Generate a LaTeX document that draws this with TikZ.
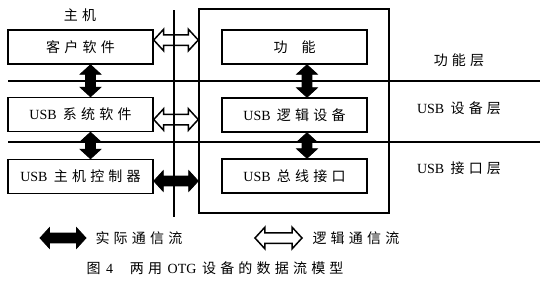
\documentclass[tikz,border=0pt]{standalone}
\usepackage{fontspec}
\setmainfont{Liberation Serif}
\newfontfamily\cjk[LetterSpace=30]{Noto Sans CJK SC}
\newcommand\usb{USB\hspace{.45em}}
\usetikzlibrary{arrows.meta,shapes.arrows,calc}

\begin{document}
\begin{tikzpicture}[x=1pt,y=-1pt,
  box/.style={draw,line width=1.5pt,minimum width=145pt,minimum height=34pt,inner sep=0pt,font=\fontsize{14}{16}\selectfont},
  txt/.style={font=\fontsize{14}{16}\selectfont},
  layer/.style={line width=1.6pt},
  flow/.style={to path={let \p1=(\tikztostart),\p2=(\tikztotarget),\n1={veclen(\x2-\x1,\y2-\y1)},\n2={atan2(\y2-\y1,\x2-\x1)} in node[double arrow,inner xsep=0pt,inner ysep=4.5pt,double arrow head extend=5.5pt,double arrow tip angle=95,minimum height=\n1,rotate=\n2,#1] at ($(\p1)!.5!(\p2)$) {}}},
  real/.style={fill=black,draw=black,line width=0.8pt},
  logic/.style={draw=black,line width=1.5pt}]
  \useasboundingbox (0,0) rectangle (549,285);
  % layers
  \draw[layer] (8,81) -- (540,81);
  \draw[layer] (8,142) -- (540,142);
  \draw[layer] (174,10) -- (174,217);
  % host side
  \node[txt] (host) at (80,15) {\cjk 主机};
  \node[box] (kh) at (80.5,47) {\cjk 客户软件};
  \node[box] (sys) at (80.5,114.5) {\usb\cjk 系统软件};
  \node[box] (hc) at (80.5,176.5) {\usb\cjk 主机控制器};
  % device side
  \node[draw,line width=1.5pt,minimum width=190pt,minimum height=204pt,inner sep=0pt] (dev) at (294,111) {};
  \node[box] (fn) at (294.5,47) {\cjk 功\quad 能};
  \node[box] (ld) at (294.5,115) {\usb\cjk 逻辑设备};
  \node[box] (bi) at (294.5,176) {\usb\cjk 总线接口};
  % layer names
  \node[txt] (l1) at (459,60) {\cjk 功能层};
  \node[txt] (l2) at (459,108) {\usb\cjk 设备层};
  \node[txt] (l3) at (459,168) {\usb\cjk 接口层};
  % flows
  \path ([xshift=10pt]kh.south) to[flow=real] ([xshift=10pt]sys.north);
  \path ([xshift=10pt]sys.south) to[flow=real] ([xshift=10pt]hc.north);
  \path ([xshift=12.5pt]fn.south) to[flow=real] ([xshift=12.5pt]ld.north);
  \path ([xshift=12.5pt]ld.south) to[flow=real] ([xshift=12.5pt]bi.north);
  \path ($(kh.east)+(0,-7)$) to[flow=logic] ($(kh.east -| dev.west)+(0,-7)$);
  \path ($(sys.east)+(0,5)$) to[flow=logic] ($(sys.east -| dev.west)+(0,5)$);
  \path ($(hc.east)+(0,4.5)$) to[flow=real] ($(hc.east -| dev.west)+(0,4.5)$);
  % legend
  \coordinate (ra) at (40,238);
  \coordinate (rb) at (86,238);
  \coordinate (la) at (255,238);
  \coordinate (lb) at (302,238);
  \path (ra) to[flow=real] (rb);
  \path (la) to[flow=logic] (lb);
  \node[txt,anchor=west] (rt) at (92,238) {\cjk 实际通信流};
  \node[txt,anchor=west] (lt) at (309,238) {\cjk 逻辑通信流};
  \node[font=\fontsize{14}{16}\selectfont] (cap) at (215,268) {\cjk 图\hspace{.4em}\rmfamily 4\hspace{1.2em}\cjk 两用\hspace{.4em}\rmfamily OTG\hspace{.4em}\cjk 设备的数据流模型};
\end{tikzpicture}
\end{document}
